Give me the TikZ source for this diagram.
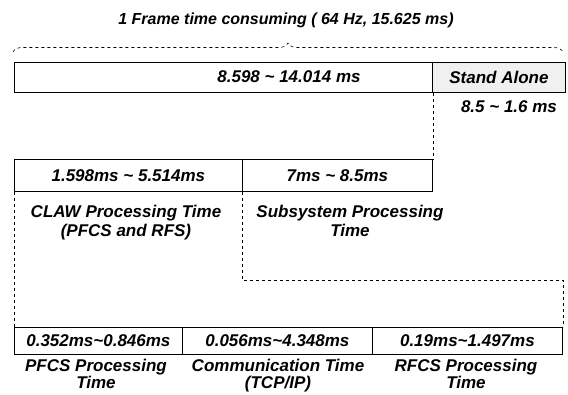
\documentclass[tikz,border=0pt]{standalone}
\usepackage{fontspec}
\setmainfont{Liberation Sans}
\usetikzlibrary{decorations.pathreplacing}
\begin{document}
\begin{tikzpicture}[x=1pt, y=-1pt,
  font=\fontsize{17}{19}\selectfont\bfseries\itshape,
  cell/.style={draw, line width=0.8pt, inner sep=0pt, anchor=north west},
  tag/.style={align=center, anchor=north},
  guide/.style={draw, dashed, line width=0.6pt}]
\useasboundingbox (0,0) rectangle (568,395);
% title and brace
\node[font=\fontsize{16}{18}\selectfont\bfseries\itshape] (title) at (286,20) {1 Frame time consuming ( 64 Hz, 15.625 ms)};
\coordinate (bl) at (13,52);
\coordinate (br) at (563,52);
\draw[guide, decorate, decoration={brace, amplitude=9pt}] (bl) -- (br);
% top row
\node[cell, minimum width=418pt, minimum height=30pt] (busy) at (14,62) {};
\node[cell, minimum width=133pt, minimum height=30pt, fill=gray!12] (alone) at (432,62) {Stand Alone};
\node (busyt) at (289,77) {8.598 \textasciitilde{} 14.014 ms};
\node (alonet) at (509,107) {8.5 \textasciitilde{} 1.6 ms};
% middle row
\node[cell, minimum width=228pt, minimum height=32pt] (claw) at (14,159) {1.598ms \textasciitilde{} 5.514ms};
\node[cell, minimum width=190pt, minimum height=32pt] (subs) at (242,159) {7ms \textasciitilde{} 8.5ms};
\node[tag] (clawt) at (126,202) {CLAW Processing Time\\(PFCS and RFS)};
\node[tag] (subst) at (350,202) {Subsystem Processing\\Time};
% bottom row
\node[cell, minimum width=168pt, minimum height=27pt] (pfcs) at (14,327) {0.352ms\textasciitilde0.846ms};
\node[cell, minimum width=190pt, minimum height=27pt] (comm) at (182,327) {0.056ms\textasciitilde4.348ms};
\node[cell, minimum width=190pt, minimum height=27pt] (rfcs) at (372,327) {0.19ms\textasciitilde1.497ms};
\node[tag, font=\fontsize{17}{17}\selectfont\bfseries\itshape] (pfcst) at (96,356) {PFCS Processing\\Time};
\node[tag, font=\fontsize{17}{17}\selectfont\bfseries\itshape] (commt) at (278,356) {Communication Time\\(TCP/IP)};
\node[tag, font=\fontsize{17}{17}\selectfont\bfseries\itshape] (rfcst) at (466,356) {RFCS Processing\\Time};
% dashed guides
\coordinate (bend) at (242,280);
\draw[guide] (busy.south east) -- (subs.north east);
\draw[guide] (claw.south west) -- (pfcs.north west);
\draw[guide] (subs.south west) -- (bend) -| (rfcs.north east);
\end{tikzpicture}
\end{document}
